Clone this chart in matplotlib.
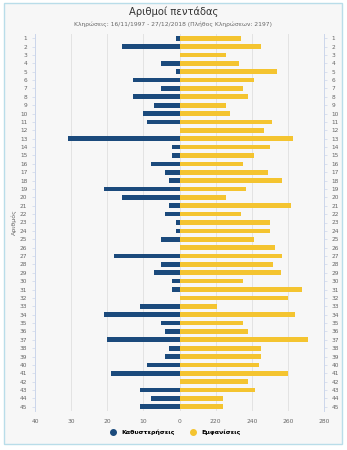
import numpy as np
import matplotlib.pyplot as plt
from matplotlib.patches import Rectangle
from matplotlib.lines import Line2D

plt.rcParams['font.family'] = ['DejaVu Sans']

numbers = list(range(1, 46))
delays = [1, 16, 0, 5, 1, 13, 5, 13, 7, 10, 9, 0, 31, 2, 2,
          8, 4, 3, 21, 16, 3, 4, 1, 1, 5, 0, 18, 5, 7, 2,
          2, 0, 11, 21, 5, 4, 20, 3, 4, 9, 19, 0, 11, 8, 11]
appearances = [234, 245, 226, 233, 254, 241, 235, 238, 226, 228, 251, 247, 263, 250, 241,
               235, 249, 257, 237, 226, 262, 234, 250, 250, 241, 253, 257, 252, 256, 235,
               268, 260, 221, 264, 235, 238, 271, 245, 245, 244, 260, 238, 242, 224, 224]
tick_labels = ['40', '30', '20', '10', '0', '220', '240', '260', '280']

BLUE = '#1b4a7c'
YELLOW = '#f4c430'
BG = '#f7f7f7'
GRID = '#e3e3e3'
AXIS = '#ccd6eb'
TXT = '#666666'

# right half is offset from 200 and compressed so 20 appearances = 10 units
base = 200
app_x = [(a - base) / 2 for a in appearances]
neg_delays = [-d for d in delays]

fig = plt.figure(figsize=(3.47, 4.5), dpi=100)
fig.patch.set_facecolor('white')
fig.patches.append(Rectangle((4 / 347, 1 - 444 / 450), 338 / 347, 441 / 450,
                             transform=fig.transFigure, facecolor=BG,
                             edgecolor='#b9dde9', linewidth=1.0, zorder=-1))

ax = fig.add_axes([35 / 347, 1 - 411 / 450, 289 / 347, 377 / 450])
ax.set_facecolor(BG)

y = np.arange(len(numbers))
ax.barh(y, neg_delays, height=0.56, color=BLUE, zorder=3)
ax.barh(y, app_x, height=0.56, color=YELLOW, zorder=3)

ax.set_ylim(len(numbers) - 0.5, -0.5)
ax.set_xlim(-40, 40)
ax.set_xticks(np.arange(-40, 41, 10))
ax.set_xticklabels(tick_labels)
ax.set_yticks(y)
ax.set_yticklabels([str(n) for n in numbers])

ax.grid(True, axis='x', color=GRID, linewidth=0.7, zorder=0)
for s in ['top', 'bottom']:
    ax.spines[s].set_visible(False)
for s in ['left', 'right']:
    ax.spines[s].set_color(AXIS)
    ax.spines[s].set_linewidth(0.7)

ax.tick_params(axis='y', left=True, right=True, labelleft=True, labelright=True,
               labelsize=4.2, colors=TXT, length=2.5, width=0.5, pad=3)
ax.tick_params(axis='y', color=AXIS)
ax.tick_params(axis='x', bottom=False, labelsize=4.3, colors=TXT, pad=2)

ax.set_ylabel('Αριθμός', fontsize=4.5, color=TXT, labelpad=2)

fig.text(0.5, 1 - 12 / 450, 'Αριθμοί πεντάδας', ha='center', va='center',
         fontsize=7.2, color='#333333')
fig.text(0.5, 1 - 24 / 450,
         'Κληρώσεις: 16/11/1997 - 27/12/2018 (Πλήθος Κληρώσεων: 2197)',
         ha='center', va='center', fontsize=4.3, color=TXT)

handles = [Line2D([], [], marker='o', linestyle='none', markersize=4, color=BLUE),
           Line2D([], [], marker='o', linestyle='none', markersize=4, color=YELLOW)]
fig.legend(handles, ['Καθυστερήσεις', 'Εμφανίσεις'], loc='center',
           bbox_to_anchor=(0.5, 1 - 432 / 450), ncol=2, frameon=False,
           handletextpad=0.3, columnspacing=2.0,
           prop={'weight': 'bold', 'size': 4.5})

fig.savefig('out.png', dpi=100, facecolor='white')
